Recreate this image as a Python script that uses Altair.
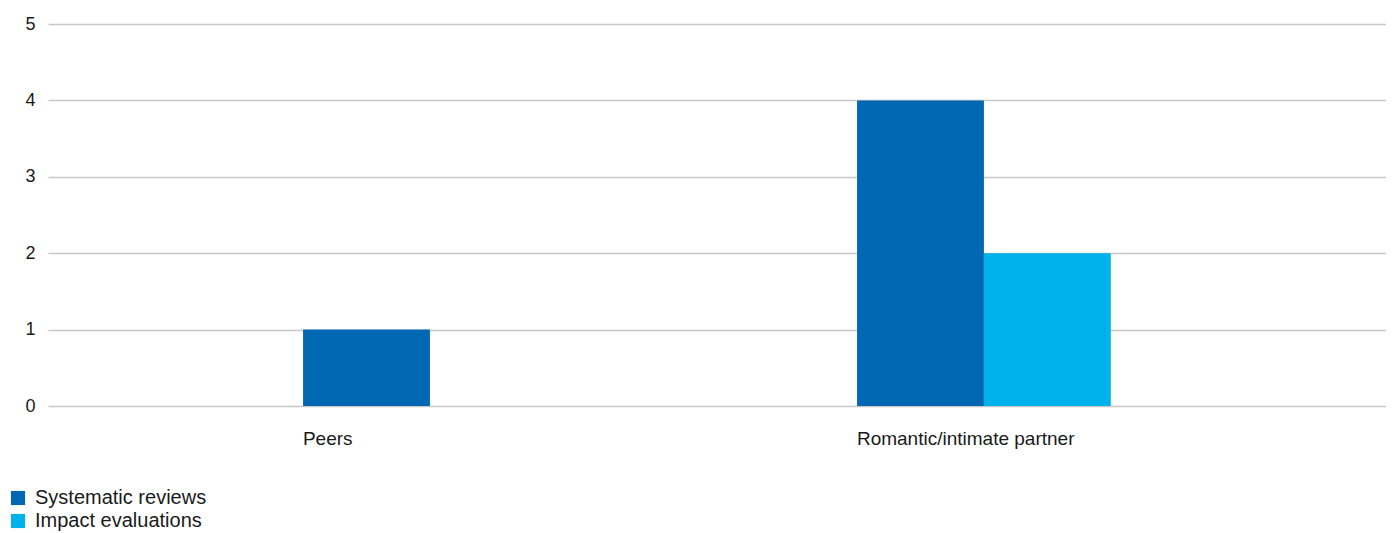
import altair as alt
import pandas as pd

categories = ["Peers", "Romantic/intimate partner"]
series = ["Systematic reviews", "Impact evaluations"]
systematic_reviews = [1, 4]
impact_evaluations = [0, 2]
y_ticks = [0, 1, 2, 3, 4, 5]
colors = ["#0068b3", "#00b2eb"]

rows = []
for i, c in enumerate(categories):
    rows.append({"category": c, "series": series[0], "value": systematic_reviews[i]})
    rows.append({"category": c, "series": series[1], "value": impact_evaluations[i]})
df = pd.DataFrame(rows)

FONT = "Liberation Sans"

chart = alt.Chart(df).mark_bar().encode(
    x=alt.X(
        "category:N",
        sort=categories,
        title=None,
        scale=alt.Scale(paddingInner=0.542, paddingOuter=0.4786, align=0.481),
        axis=alt.Axis(
            labelAngle=0, labelAlign="left", labelOffset=-127, ticks=False,
            domain=False, grid=False, labelFontSize=19, labelFont=FONT,
            labelColor="#1a1a1a", labelPadding=23, labelBaseline="top",
            labelLimit=0,
        ),
    ),
    xOffset=alt.XOffset("series:N", sort=series),
    y=alt.Y(
        "value:Q",
        title=None,
        scale=alt.Scale(domain=[0, 5], nice=False),
        axis=alt.Axis(
            values=y_ticks, format="d", ticks=False, domain=False,
            gridColor="#c8c8c8", gridWidth=1.5, labelFontSize=18,
            labelFont=FONT, labelColor="#1a1a1a", labelPadding=13,
        ),
    ),
    color=alt.Color(
        "series:N",
        sort=series,
        scale=alt.Scale(domain=series, range=colors),
        legend=alt.Legend(
            title=None, orient="none", legendX=-40, legendY=464,
            symbolType="square", symbolSize=200, symbolStrokeWidth=0,
            labelFontSize=20, labelFont=FONT, labelColor="#1a1a1a",
            labelOffset=7, rowPadding=3, direction="vertical", labelLimit=0,
        ),
    ),
).properties(
    width=1338,
    height=382,
    autosize=alt.AutoSizeParams(type="none"),
    padding={"left": 40, "top": 16, "right": 0, "bottom": 127},
).configure_view(stroke=None)

chart.save("out.html", embed_options={"renderer": "svg", "actions": False})
